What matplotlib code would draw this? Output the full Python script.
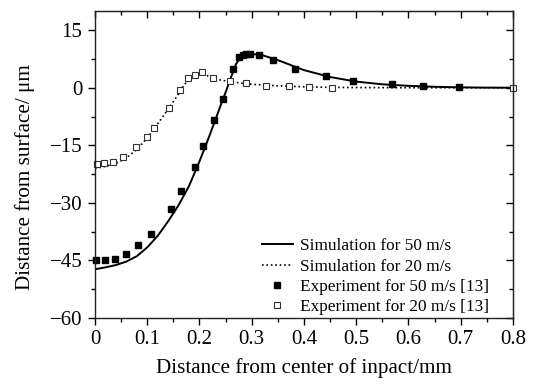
import matplotlib
matplotlib.use("Agg")
import matplotlib.pyplot as plt
from matplotlib.ticker import MultipleLocator

plt.rcParams['font.family'] = ['Liberation Serif', 'DejaVu Serif']
plt.rcParams['mathtext.fontset'] = 'stix'

# Simulation curves (traced)
sim50_x = [0.0, 0.02, 0.04, 0.06, 0.08, 0.10, 0.12, 0.14, 0.16, 0.18, 0.20, 0.22, 0.24, 0.25,
           0.26, 0.27, 0.28, 0.29, 0.30, 0.32, 0.35, 0.40, 0.45, 0.50, 0.55, 0.60, 0.65, 0.70, 0.75, 0.80]
sim50_y = [-47.3, -46.8, -46.2, -45.3, -43.9, -41.6, -38.6, -34.8, -30.6, -25.6, -19.2, -12.2, -4.8, -1.2,
           2.6, 6.2, 8.1, 8.7, 8.8, 8.5, 7.2, 4.6, 2.8, 1.6, 0.9, 0.5, 0.25, 0.1, 0.03, 0.0]

sim20_x = [0.0, 0.02, 0.04, 0.06, 0.08, 0.10, 0.12, 0.14, 0.16, 0.17, 0.18, 0.19, 0.20, 0.21, 0.22,
           0.24, 0.26, 0.28, 0.30, 0.35, 0.40, 0.45, 0.50, 0.60, 0.70, 0.80]
sim20_y = [-21.0, -20.5, -19.7, -18.3, -16.1, -13.1, -9.4, -5.6, -1.6, 0.6, 2.3, 3.4, 3.8, 3.5, 2.8,
           2.0, 1.6, 1.2, 0.9, 0.5, 0.25, 0.1, 0.05, 0.0, 0.0, 0.0]

# Experimental points
exp50_x = [0.002, 0.020, 0.038, 0.060, 0.082, 0.107, 0.146, 0.165, 0.192, 0.206, 0.228, 0.245,
           0.265, 0.276, 0.284, 0.290, 0.296, 0.314, 0.341, 0.383, 0.442, 0.493, 0.568, 0.627, 0.697]
exp50_y = [-45.0, -44.9, -44.5, -43.2, -41.1, -38.1, -31.6, -26.8, -20.6, -15.2, -8.5, -3.0,
           4.8, 8.0, 8.6, 8.8, 8.9, 8.6, 7.3, 5.0, 3.0, 1.7, 0.9, 0.4, 0.15]

exp20_x = [0.003, 0.018, 0.034, 0.054, 0.079, 0.100, 0.112, 0.142, 0.163, 0.179, 0.192, 0.204,
           0.225, 0.259, 0.289, 0.328, 0.371, 0.410, 0.454, 0.800]
exp20_y = [-19.9, -19.5, -19.3, -18.0, -15.5, -12.9, -10.6, -5.4, -0.7, 2.5, 3.3, 4.1,
           2.6, 1.7, 1.2, 0.5, 0.35, 0.2, 0.05, 0.0]

xticks = [0, 0.1, 0.2, 0.3, 0.4, 0.5, 0.6, 0.7, 0.8]
xticklabels = ['0', '0.1', '0.2', '0.3', '0.4', '0.5', '0.6', '0.7', '0.8']
yticks = [15, 0, -15, -30, -45, -60]
yticklabels = ['15', '0', '\u221215', '\u221230', '\u221245', '\u221260']

fig = plt.figure(figsize=(5.41, 3.87), dpi=100)
ax = fig.add_axes([0.1756, 0.1783, 0.948 - 0.1756, 0.9716 - 0.1783])

ax.plot(sim50_x, sim50_y, '-', color='black', lw=1.4, label='Simulation for 50 m/s')
ax.plot(sim20_x, sim20_y, ':', color='black', lw=1.2, label='Simulation for 20 m/s')
ax.plot(exp50_x, exp50_y, 's', color='black', ms=4.8, mec='black', lw=0,
        label='Experiment for 50 m/s [13]', clip_on=False)
ax.plot(exp20_x, exp20_y, 's', mfc='white', mec='#333333', mew=0.8, ms=4.8, lw=0,
        label='Experiment for 20 m/s [13]', clip_on=False)

ax.set_xlim(0, 0.8)
ax.set_ylim(-60, 20)
ax.set_xticks(xticks)
ax.set_xticklabels(xticklabels)
ax.set_yticks(yticks)
ax.set_yticklabels(yticklabels)
ax.xaxis.set_minor_locator(MultipleLocator(0.05))
ax.yaxis.set_minor_locator(MultipleLocator(7.5))

ax.tick_params(which='both', direction='out', top=False, right=False, labelsize=15, width=1.0)
ax.tick_params(which='major', length=5, pad=4)
ax.tick_params(which='minor', length=3)

# inward ticks on top/right
axt = ax.secondary_xaxis('top')
axt.set_xticks(xticks)
axt.set_xticklabels([])
axt.xaxis.set_minor_locator(MultipleLocator(0.05))
axt.tick_params(which='both', direction='in', width=1.0)
axt.tick_params(which='major', length=5)
axt.tick_params(which='minor', length=3)
axr = ax.secondary_yaxis('right')
axr.set_yticks(yticks)
axr.set_yticklabels([])
axr.yaxis.set_minor_locator(MultipleLocator(7.5))
axr.tick_params(which='both', direction='in', width=1.0)
axr.tick_params(which='major', length=5)
axr.tick_params(which='minor', length=3)

for s in ax.spines.values():
    s.set_linewidth(1.0)
    s.set_color('#222222')

ax.set_xlabel('Distance from center of inpact/mm', fontsize=15.2, labelpad=6)
ax.set_ylabel('Distance from surface/ \u03bcm', fontsize=15.2)
ax.yaxis.set_label_coords(-0.143, 0.46)

leg = ax.legend(loc='lower right', frameon=False, fontsize=12.4, handlelength=1.8,
                handletextpad=0.45, labelspacing=0.25, borderaxespad=0.0, borderpad=0.15,
                bbox_to_anchor=(0.95, 0.0))

fig.savefig('out.png', dpi=100)
